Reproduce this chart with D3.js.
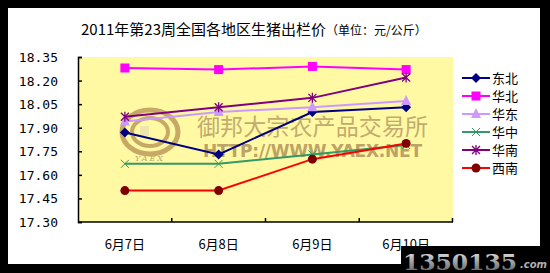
<!DOCTYPE html>
<html>
<head>
<meta charset="utf-8">
<script src="https://cdn.jsdelivr.net/npm/d3@7"></script>
<style>
  html, body { margin: 0; padding: 0; background: #000; }
  svg { display: block; }
</style>
</head>
<body>
<svg id="chart" width="550" height="273"></svg>
<script>
// chart data
const dates = ["6月7日", "6月8日", "6月9日", "6月10日"];
const yTicks = [17.30, 17.45, 17.60, 17.75, 17.90, 18.05, 18.20, 18.35];
const dongbei = [17.87, 17.73, 18.00, 18.03];
const huabei = [18.28, 18.27, 18.29, 18.27];
const huadong = [17.94, 18.00, 18.03, 18.07];
const huazhong = [17.67, 17.67, 17.73, 17.79];
const huanan = [17.97, 18.03, 18.09, 18.22];
const xinan = [17.50, 17.50, 17.70, 17.80];

const series = [
  { name: "东北", values: dongbei, line: "#000080", fill: "#000080", marker: "diamond" },
  { name: "华北", values: huabei, line: "#ff00ff", fill: "#ff00ff", marker: "square" },
  { name: "华东", values: huadong, line: "#cc99ff", fill: "#cc99ff", marker: "triangle" },
  { name: "华中", values: huazhong, line: "#339966", fill: "#339966", marker: "x" },
  { name: "华南", values: huanan, line: "#800080", fill: "#800080", marker: "star" },
  { name: "西南", values: xinan, line: "#ff0000", fill: "#800000", marker: "circle" }
];

const svg = d3.select("#chart");

// white panel inside the black frame
svg.append("rect").attr("x", 8).attr("y", 8).attr("width", 532).attr("height", 256).attr("fill", "#ffffff");

const plot = { left: 78, right: 453, top: 57, bottom: 222 };

const x = d3.scaleBand().domain(dates).range([plot.left, plot.right]);
const y = d3.scaleLinear().domain([17.30, 18.35]).range([plot.bottom, plot.top]);

// plot background
svg.append("rect")
  .attr("x", plot.left).attr("y", plot.top)
  .attr("width", plot.right - plot.left).attr("height", plot.bottom - plot.top)
  .attr("fill", "#fff9a4");

// watermark (logo + text)
const wm = svg.append("g").attr("opacity", 0.75);
[[28, 22, 5], [18, 14, 4]].forEach(([rx, ry, w]) => {
  wm.append("ellipse").attr("cx", 150).attr("cy", 132).attr("rx", rx).attr("ry", ry)
    .attr("fill", "none").attr("stroke", "#b58f52").attr("stroke-width", w);
});
wm.append("rect").attr("x", 140).attr("y", 126).attr("width", 9).attr("height", 10).attr("fill", "#e8e0b0");
wm.append("text").attr("x", 150).attr("y", 161).attr("text-anchor", "middle")
  .attr("font-family", "DejaVu Serif").attr("font-style", "italic").attr("font-size", 8)
  .attr("letter-spacing", 2).attr("fill", "#a88a5a").text("YAEX");
wm.append("text").attr("x", 197).attr("y", 135)
  .attr("font-family", "Noto Sans CJK SC").attr("font-size", 23)
  .attr("textLength", 231).attr("fill", "#b0925e").text("御邦大宗农产品交易所");
wm.append("text").attr("x", 203).attr("y", 157)
  .attr("font-family", "DejaVu Sans").attr("font-weight", "bold").attr("font-size", 17)
  .attr("textLength", 219).attr("fill", "#a68552").text("HTTP://WWW.YAEX.NET");

// y axis
const yAxis = d3.axisLeft(y).tickValues(yTicks).tickSize(-4).tickFormat(() => "");
const yg = svg.append("g").attr("transform", `translate(${plot.left},0)`).call(yAxis);
yg.select(".domain").attr("stroke", "#000").attr("stroke-width", 1.5);
yg.selectAll(".tick line").attr("stroke", "#000").attr("stroke-width", 1.5);

svg.append("g").selectAll("text").data(yTicks).join("text")
  .attr("x", 58).attr("y", d => y(d) + 5)
  .attr("text-anchor", "end")
  .attr("font-family", "DejaVu Sans Mono").attr("font-size", 13)
  .attr("fill", "#000")
  .text(d => d.toFixed(2));

// x axis
const xg = svg.append("g").attr("transform", `translate(0,${plot.bottom})`);
xg.append("line").attr("x1", plot.left).attr("x2", plot.right).attr("stroke", "#000").attr("stroke-width", 1.5);
xg.selectAll("line.tk").data(dates.slice(1)).join("line").attr("class", "tk")
  .attr("x1", d => x(d)).attr("x2", d => x(d)).attr("y1", 0).attr("y2", -4)
  .attr("stroke", "#000").attr("stroke-width", 1.5);
xg.append("line").attr("x1", plot.right - 0.5).attr("x2", plot.right - 0.5).attr("y1", 0).attr("y2", -4)
  .attr("stroke", "#000").attr("stroke-width", 1.5);
xg.selectAll("text").data(dates).join("text")
  .attr("x", d => x(d) + x.bandwidth() / 2).attr("y", 27)
  .attr("text-anchor", "middle")
  .attr("font-family", "Noto Sans CJK SC").attr("font-size", 13)
  .attr("fill", "#000").text(d => d);

// marker drawing
function drawMarker(g, type, cx, cy, fill) {
  if (type === "diamond") {
    g.append("path").attr("d", `M${cx},${cy - 5}L${cx + 5},${cy}L${cx},${cy + 5}L${cx - 5},${cy}Z`).attr("fill", fill);
  } else if (type === "square") {
    g.append("rect").attr("x", cx - 4.5).attr("y", cy - 4.5).attr("width", 9).attr("height", 9).attr("fill", fill);
  } else if (type === "triangle") {
    g.append("path").attr("d", `M${cx},${cy - 6}L${cx + 5},${cy + 4}L${cx - 5},${cy + 4}Z`).attr("fill", fill);
  } else if (type === "x") {
    g.append("path").attr("d", `M${cx - 4},${cy - 4}L${cx + 4},${cy + 4}M${cx + 4},${cy - 4}L${cx - 4},${cy + 4}`)
      .attr("stroke", fill).attr("stroke-width", 1);
  } else if (type === "star") {
    g.append("path").attr("d", `M${cx - 4},${cy - 4}L${cx + 4},${cy + 4}M${cx + 4},${cy - 4}L${cx - 4},${cy + 4}M${cx},${cy - 5}L${cx},${cy + 5}`)
      .attr("stroke", fill).attr("stroke-width", 1.3);
  } else if (type === "circle") {
    g.append("circle").attr("cx", cx).attr("cy", cy).attr("r", 4.5).attr("fill", fill);
  }
}

// series lines and markers
const line = d3.line()
  .x((d, i) => x(dates[i]) + x.bandwidth() / 2)
  .y(d => y(d));

series.forEach(s => {
  svg.append("path").datum(s.values)
    .attr("d", line).attr("fill", "none")
    .attr("stroke", s.line).attr("stroke-width", 2);
  const g = svg.append("g");
  s.values.forEach((v, i) => drawMarker(g, s.marker, x(dates[i]) + x.bandwidth() / 2, y(v), s.fill));
});

// legend
const legend = svg.append("g");
series.forEach((s, i) => {
  const ly = 78 + i * 18;
  legend.append("line").attr("x1", 462).attr("x2", 490).attr("y1", ly).attr("y2", ly)
    .attr("stroke", s.line).attr("stroke-width", 2);
  drawMarker(legend, s.marker, 476, ly, s.fill);
  legend.append("text").attr("x", 492).attr("y", ly + 5)
    .attr("font-family", "Noto Sans CJK SC").attr("font-size", 13)
    .attr("fill", "#000").text(s.name);
});

// title
const title = svg.append("text").attr("x", 81).attr("y", 35)
  .attr("font-family", "Noto Sans CJK SC").attr("fill", "#000");
title.append("tspan").attr("font-size", 15).text("2011年第23周全国各地区生猪出栏价");
title.append("tspan").attr("font-size", 12).text("（单位：元/公斤）");

// site stamp at bottom right
svg.append("rect").attr("x", 401).attr("y", 246).attr("width", 149).attr("height", 27).attr("fill", "#000");
const grad = svg.append("defs").append("linearGradient").attr("id", "metal").attr("x1", 0).attr("x2", 0).attr("y1", 0).attr("y2", 1);
grad.append("stop").attr("offset", "0%").attr("stop-color", "#f0f0f0");
grad.append("stop").attr("offset", "50%").attr("stop-color", "#a0a0a0");
grad.append("stop").attr("offset", "100%").attr("stop-color", "#505050");
svg.append("text").attr("x", 403).attr("y", 270)
  .attr("font-family", "DejaVu Serif").attr("font-weight", "bold").attr("font-size", 22)
  .attr("textLength", 114).attr("lengthAdjust", "spacingAndGlyphs")
  .attr("fill", "url(#metal)").text("1350135");
svg.append("text").attr("x", 520).attr("y", 268)
  .attr("font-family", "DejaVu Sans").attr("font-style", "italic").attr("font-weight", "bold").attr("font-size", 10)
  .attr("fill", "#b0b0b0").text(".com");
</script>
</body>
</html>
